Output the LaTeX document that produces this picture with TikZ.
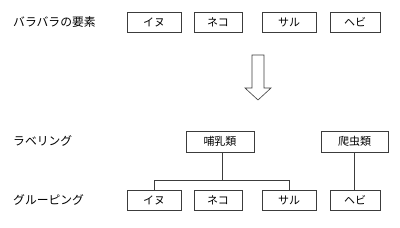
\documentclass[tikz,border=0pt]{standalone}
\usepackage{fontspec}
\setmainfont{Noto Sans CJK JP}
\usepackage{tikz}
\usetikzlibrary{positioning,calc}
\definecolor{LineGray}{RGB}{60,60,60}
\tikzset{
    item/.style={draw=LineGray, line width=0.6pt, minimum height=20pt, inner sep=0pt, align=center, font=\fontsize{11}{13}\selectfont},
    rowlabel/.style={anchor=west, inner sep=0pt, font=\fontsize{11.8}{13}\selectfont},
    link/.style={draw=LineGray, line width=0.6pt},
    bigarr/.style={draw=LineGray, line width=0.6pt, fill=white},
}
\begin{document}
\begin{tikzpicture}[x=1pt, y=-1pt]
\useasboundingbox (0,0) rectangle (400,228);
% row labels
\node[rowlabel] (lbltop) at (13,22) {バラバラの要素};
\node[rowlabel] (lbllab) at (13,141) {ラベリング};
\node[rowlabel] (lblgrp) at (13,200) {グルーピング};

% loose elements
\node[item, minimum width=54pt] (inu1) at (154,22) {イヌ};
\node[item, minimum width=48pt] (neko1) at (218,22) {ネコ};
\node[item, minimum width=54pt] (saru1) at (289,22) {サル};
\node[item, minimum width=50pt] (hebi1) at (355,22) {ヘビ};

% block arrow
\draw[bigarr] (252,55) -- (264,55) -- (264,88) -- (271,88) -- (258,100)
    -- (245,88) -- (252,88) -- cycle;

% labels
\node[item, minimum width=68pt, minimum height=21pt] (mam) at (220,141.5) {哺乳類};
\node[item, minimum width=67pt, minimum height=21pt] (rep) at (354.5,141.5) {爬虫類};

% grouped elements
\node[item, minimum width=54pt] (inu2) at (154,200) {イヌ};
\node[item, minimum width=48pt] (neko2) at (218,200) {ネコ};
\node[item, minimum width=54pt] (saru2) at (289,200) {サル};
\node[item, minimum width=50pt] (hebi2) at (355,200) {ヘビ};

\coordinate (bar) at (222,180);
\draw[link] (mam.south -| bar) -- (bar);
\draw[link] (inu2.north) -- (inu2.north |- bar) -- (saru2.north |- bar) -- (saru2.north);
\draw[link] (rep.south) -- (rep.south |- hebi2.north);
\end{tikzpicture}
\end{document}
